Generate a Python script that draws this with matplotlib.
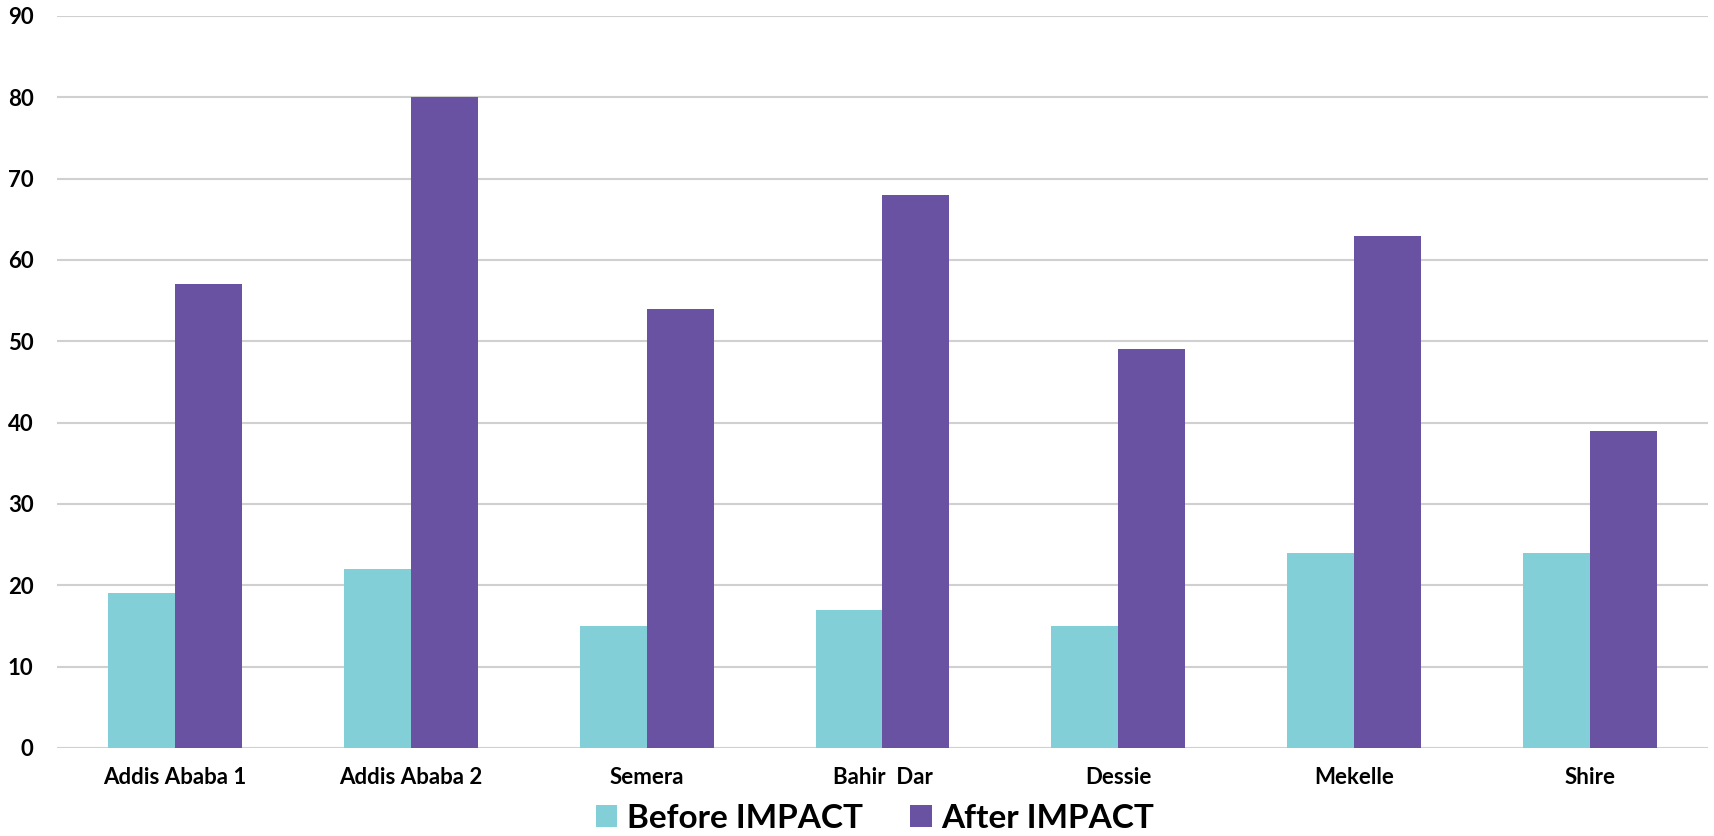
import matplotlib.pyplot as plt
import numpy as np

plt.rcParams['font.family'] = ['Lato', 'DejaVu Sans']
plt.rcParams['font.weight'] = 'bold'

sites = ["Addis Ababa 1", "Addis Ababa 2", "Semera", "Bahir  Dar", "Dessie", "Mekelle", "Shire"]
before = [19, 22, 15, 17, 15, 24, 24]
after = [57, 80, 54, 68, 49, 63, 39]

fig = plt.figure(figsize=(17.15, 8.36), dpi=100)
ax = fig.add_axes([57 / 1715, 1 - 748 / 836, 1651 / 1715, 732 / 836])

x = np.arange(len(sites))
w = 0.284
ax.bar(x - w / 2, before, w, color='#82CFD8', label='Before IMPACT', zorder=3)
ax.bar(x + w / 2, after, w, color='#6A52A2', label='After IMPACT', zorder=3)

ax.set_xlim(-0.5, len(sites) - 0.5)
ax.set_ylim(0, 90)
ax.set_yticks(range(0, 91, 10))
ax.set_xticks(x)
ax.set_xticklabels(sites, fontsize=16, fontweight='bold')
ax.tick_params(axis='y', length=0, pad=17, labelsize=16)
ax.tick_params(axis='x', length=0, pad=14)
for lbl in ax.get_yticklabels():
    lbl.set_fontweight('bold')

ax.grid(axis='y', color='#D0D0D0', linewidth=1.5, zorder=0)
for s in ax.spines.values():
    s.set_visible(False)

ax.legend(loc='center', bbox_to_anchor=(875 / 1715, 1 - 818 / 836),
          bbox_transform=fig.transFigure, ncol=2, frameon=False,
          prop={'size': 24, 'weight': 'bold'}, handlelength=0.65, handleheight=0.65,
          handletextpad=0.3, columnspacing=1.4)

fig.savefig('out.png', dpi=100)
